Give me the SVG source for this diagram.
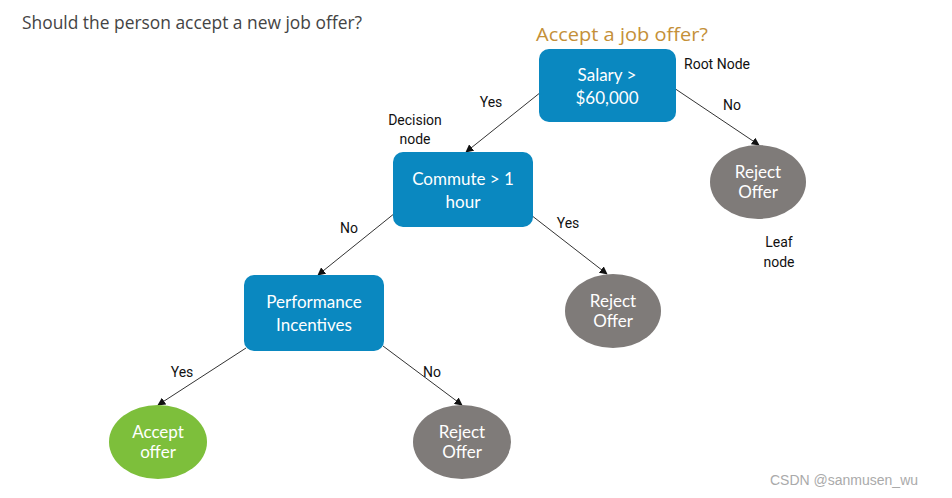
<svg xmlns="http://www.w3.org/2000/svg" width="952" height="498" viewBox="0 0 952 498">
<style>
.box{fill:#0a88c0}
.rej{fill:#7f7b79}
.acc{fill:#7dbf3b}
.nt{font-family:"Lato","Liberation Sans",sans-serif;font-size:17px;fill:#ffffff;text-anchor:middle}
.lb{font-family:"Roboto","Liberation Sans",sans-serif;font-size:14px;fill:#111;text-anchor:middle}
.ln{stroke:#333;stroke-width:1;fill:none;marker-end:url(#ah)}
</style>
<defs>
<marker id="ah" viewBox="0 0 10 10" refX="9" refY="5" markerWidth="8" markerHeight="8" orient="auto" markerUnits="userSpaceOnUse">
<path d="M0,0 L10,5 L0,10 z" fill="#111"/>
</marker>
</defs>
<rect width="952" height="498" fill="#ffffff"/>
<text x="22" y="29" font-family="'Open Sans','Liberation Sans',sans-serif" font-size="18" fill="#444" textLength="340" lengthAdjust="spacingAndGlyphs">Should the person accept a new job offer?</text>
<text x="536" y="41" font-family="'Open Sans','Liberation Sans',sans-serif" font-size="18" fill="#c49038" textLength="172" lengthAdjust="spacingAndGlyphs">Accept a job offer?</text>
<g id="connectors">
<line class="ln" x1="541" y1="92" x2="466" y2="152"/>
<line class="ln" x1="674" y1="88" x2="759" y2="145"/>
<line class="ln" x1="531" y1="215" x2="607" y2="274"/>
<line class="ln" x1="395" y1="213" x2="318" y2="275"/>
<line class="ln" x1="246" y1="348" x2="158" y2="405"/>
<line class="ln" x1="383" y1="346" x2="462" y2="405"/>
<text class="lb" x="491" y="107">Yes</text>
<text class="lb" x="732" y="110">No</text>
<text class="lb" x="349" y="233">No</text>
<text class="lb" x="568" y="228">Yes</text>
<text class="lb" x="182" y="377">Yes</text>
<text class="lb" x="432" y="377">No</text>
</g>
<g id="root">
<rect class="box" x="539" y="49" width="137" height="73" rx="10"/>
<text class="nt" x="607" y="81">Salary &gt;</text>
<text class="nt" x="607" y="104">$60,000</text>
</g>
<g id="commute">
<rect class="box" x="393" y="152" width="140" height="75" rx="10"/>
<text class="nt" x="463" y="185">Commute &gt; 1</text>
<text class="nt" x="463" y="208">hour</text>
</g>
<g id="performance">
<rect class="box" x="244" y="275" width="140" height="76" rx="10"/>
<text class="nt" x="314" y="308">Performance</text>
<text class="nt" x="314" y="331">Incentives</text>
</g>
<g id="reject1">
<ellipse class="rej" cx="758" cy="182" rx="48" ry="37"/>
<text class="nt" x="758" y="178">Reject</text>
<text class="nt" x="758" y="198">Offer</text>
</g>
<g id="reject2">
<ellipse class="rej" cx="613" cy="311" rx="48" ry="37"/>
<text class="nt" x="613" y="307">Reject</text>
<text class="nt" x="613" y="327">Offer</text>
</g>
<g id="accept">
<ellipse class="acc" cx="158" cy="442" rx="49" ry="37"/>
<text class="nt" x="158" y="438">Accept</text>
<text class="nt" x="158" y="458">offer</text>
</g>
<g id="reject3">
<ellipse class="rej" cx="462" cy="442" rx="49" ry="37"/>
<text class="nt" x="462" y="438">Reject</text>
<text class="nt" x="462" y="458">Offer</text>
</g>
<g id="annotations">
<text class="lb" x="717" y="69">Root Node</text>
<text class="lb" x="415" y="125">Decision</text>
<text class="lb" x="415" y="144">node</text>
<text class="lb" x="779" y="247">Leaf</text>
<text class="lb" x="779" y="267">node</text>
</g>
<text x="770" y="485" font-family="'Liberation Sans',sans-serif" font-size="14" fill="#aaaaaa">CSDN @sanmusen_wu</text>
</svg>
